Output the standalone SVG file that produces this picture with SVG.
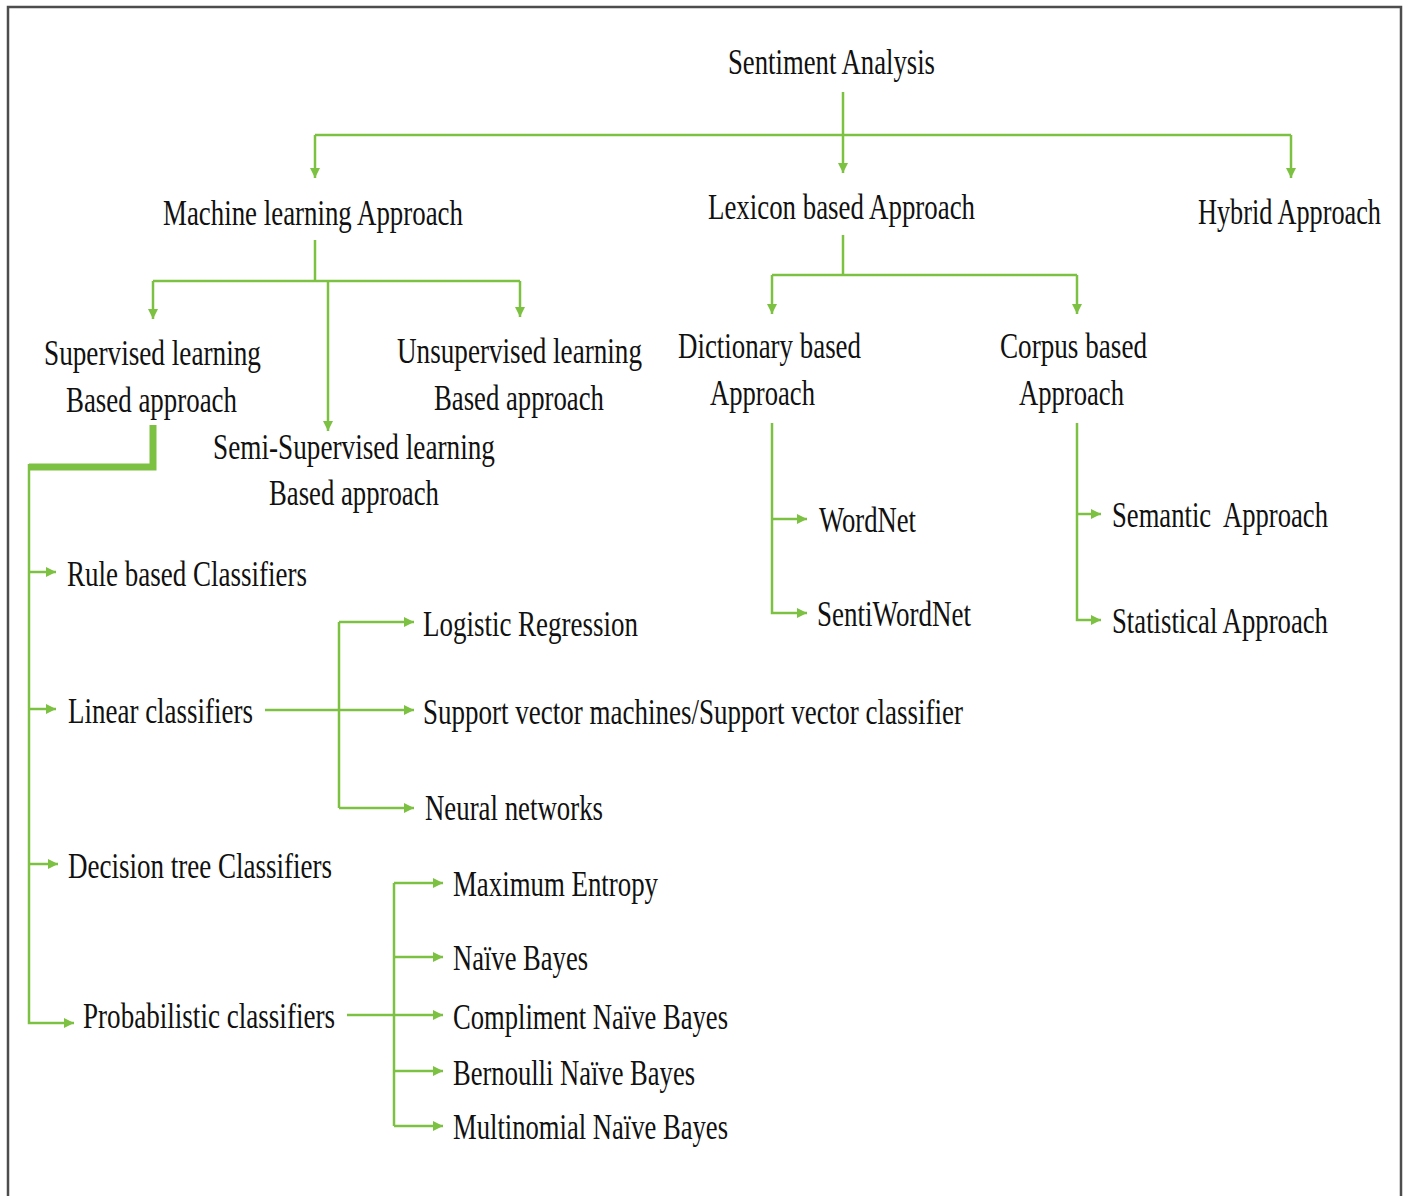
<svg xmlns="http://www.w3.org/2000/svg" width="1409" height="1196" viewBox="0 0 1409 1196">
<style>
text{font-family:"Liberation Serif","Times New Roman",serif;font-size:35px;fill:#111}
.c{fill:none;stroke:#7cc142;stroke-width:2.5}
.a{marker-end:url(#ah)}
.thick{fill:none;stroke:#7cc142;stroke-width:7}
.frame{fill:none;stroke:#4d4d4d;stroke-width:2.5}
</style>
<defs>
<marker id="ah" viewBox="0 0 10 10" refX="10" refY="5" markerWidth="11" markerHeight="10" markerUnits="userSpaceOnUse" orient="auto">
<path d="M0,0 L10,5 L0,10 z" fill="#7cc142"/>
</marker>
</defs>
<rect width="1409" height="1196" fill="#fff"/>
<path class="frame" d="M8,1196 V7 H1401 V1196"/>
<g id="connectors">
<path class="c a" d="M843,92 V173"/>
<path class="c" d="M315,135 H1291"/>
<path class="c a" d="M315,135 V178"/>
<path class="c a" d="M1291,135 V178"/>
<path class="c" d="M315,240 V281"/>
<path class="c" d="M153,281 H520"/>
<path class="c a" d="M153,281 V319"/>
<path class="c a" d="M520,281 V317"/>
<path class="c a" d="M328,281 V431"/>
<path class="c" d="M843,235 V275"/>
<path class="c" d="M772,275 H1077"/>
<path class="c a" d="M772,275 V314"/>
<path class="c a" d="M1077,275 V314"/>
<path class="c a" d="M772,423 V613 H807"/>
<path class="c a" d="M772,519 H807"/>
<path class="c a" d="M1077,423 V620 H1101"/>
<path class="c a" d="M1077,514 H1101"/>
<path class="thick" d="M153,425 V467 H29"/>
<path class="c a" d="M29,464 V1023 H74"/>
<path class="c a" d="M29,572 H56"/>
<path class="c a" d="M29,709 H56"/>
<path class="c a" d="M29,864 H58"/>
<path class="c a" d="M265,710 H414"/>
<path class="c" d="M339,622 V808"/>
<path class="c a" d="M339,622 H414"/>
<path class="c a" d="M339,808 H414"/>
<path class="c a" d="M347,1015 H443"/>
<path class="c" d="M394,883 V1126"/>
<path class="c a" d="M394,883 H443"/>
<path class="c a" d="M394,957 H443"/>
<path class="c a" d="M394,1071 H443"/>
<path class="c a" d="M394,1126 H443"/>
</g>
<g id="sentiment-analysis"><text transform="translate(728,74) scale(0.78,1)" textLength="265.4" lengthAdjust="spacingAndGlyphs">Sentiment Analysis</text></g>
<g id="machine-learning"><text transform="translate(163,225) scale(0.78,1)" textLength="384.6" lengthAdjust="spacingAndGlyphs">Machine learning Approach</text></g>
<g id="lexicon"><text transform="translate(708,219) scale(0.78,1)" textLength="342.3" lengthAdjust="spacingAndGlyphs">Lexicon based Approach</text></g>
<g id="hybrid"><text transform="translate(1198,224) scale(0.78,1)" textLength="234.6" lengthAdjust="spacingAndGlyphs">Hybrid Approach</text></g>
<g id="supervised">
<text transform="translate(44,365) scale(0.78,1)" textLength="278.2" lengthAdjust="spacingAndGlyphs">Supervised learning</text>
<text transform="translate(66,412) scale(0.78,1)" textLength="219.2" lengthAdjust="spacingAndGlyphs">Based approach</text>
</g>
<g id="unsupervised">
<text transform="translate(397,363) scale(0.78,1)" textLength="314.1" lengthAdjust="spacingAndGlyphs">Unsupervised learning</text>
<text transform="translate(434,410) scale(0.78,1)" textLength="217.9" lengthAdjust="spacingAndGlyphs">Based approach</text>
</g>
<g id="semi-supervised">
<text transform="translate(213,459) scale(0.78,1)" textLength="361.5" lengthAdjust="spacingAndGlyphs">Semi-Supervised learning</text>
<text transform="translate(269,505) scale(0.78,1)" textLength="217.9" lengthAdjust="spacingAndGlyphs">Based approach</text>
</g>
<g id="dictionary">
<text transform="translate(678,358) scale(0.78,1)" textLength="234.6" lengthAdjust="spacingAndGlyphs">Dictionary based</text>
<text transform="translate(710,405) scale(0.78,1)" textLength="134.6" lengthAdjust="spacingAndGlyphs">Approach</text>
</g>
<g id="corpus">
<text transform="translate(1000,358) scale(0.78,1)" textLength="188.5" lengthAdjust="spacingAndGlyphs">Corpus based</text>
<text transform="translate(1019,405) scale(0.78,1)" textLength="134.6" lengthAdjust="spacingAndGlyphs">Approach</text>
</g>
<g id="wordnet"><text transform="translate(819,532) scale(0.78,1)" textLength="124.4" lengthAdjust="spacingAndGlyphs">WordNet</text></g>
<g id="sentiwordnet"><text transform="translate(817,626) scale(0.78,1)" textLength="197.4" lengthAdjust="spacingAndGlyphs">SentiWordNet</text></g>
<g id="semantic"><text transform="translate(1112,527) scale(0.78,1)" textLength="276.9" lengthAdjust="spacingAndGlyphs" xml:space="preserve">Semantic  Approach</text></g>
<g id="statistical"><text transform="translate(1112,633) scale(0.78,1)" textLength="276.9" lengthAdjust="spacingAndGlyphs">Statistical Approach</text></g>
<g id="rule-based"><text transform="translate(67,586) scale(0.78,1)" textLength="307.7" lengthAdjust="spacingAndGlyphs">Rule based Classifiers</text></g>
<g id="linear"><text transform="translate(68,723) scale(0.78,1)" textLength="237.2" lengthAdjust="spacingAndGlyphs">Linear classifiers</text></g>
<g id="decision-tree"><text transform="translate(68,878) scale(0.78,1)" textLength="338.5" lengthAdjust="spacingAndGlyphs">Decision tree Classifiers</text></g>
<g id="probabilistic"><text transform="translate(83,1028) scale(0.78,1)" textLength="323.1" lengthAdjust="spacingAndGlyphs">Probabilistic classifiers</text></g>
<g id="logistic"><text transform="translate(423,636) scale(0.78,1)" textLength="275.6" lengthAdjust="spacingAndGlyphs">Logistic Regression</text></g>
<g id="svm"><text transform="translate(423,724) scale(0.78,1)" textLength="692.3" lengthAdjust="spacingAndGlyphs">Support vector machines/Support vector classifier</text></g>
<g id="neural"><text transform="translate(425,820) scale(0.78,1)" textLength="228.2" lengthAdjust="spacingAndGlyphs">Neural networks</text></g>
<g id="max-entropy"><text transform="translate(453,896) scale(0.78,1)" textLength="262.8" lengthAdjust="spacingAndGlyphs">Maximum Entropy</text></g>
<g id="naive-bayes"><text transform="translate(453,970) scale(0.78,1)" textLength="173.1" lengthAdjust="spacingAndGlyphs">Naïve Bayes</text></g>
<g id="compliment-nb"><text transform="translate(453,1029) scale(0.78,1)" textLength="352.6" lengthAdjust="spacingAndGlyphs">Compliment Naïve Bayes</text></g>
<g id="bernoulli-nb"><text transform="translate(453,1085) scale(0.78,1)" textLength="310.3" lengthAdjust="spacingAndGlyphs">Bernoulli Naïve Bayes</text></g>
<g id="multinomial-nb"><text transform="translate(453,1139) scale(0.78,1)" textLength="352.6" lengthAdjust="spacingAndGlyphs">Multinomial Naïve Bayes</text></g>
</svg>
